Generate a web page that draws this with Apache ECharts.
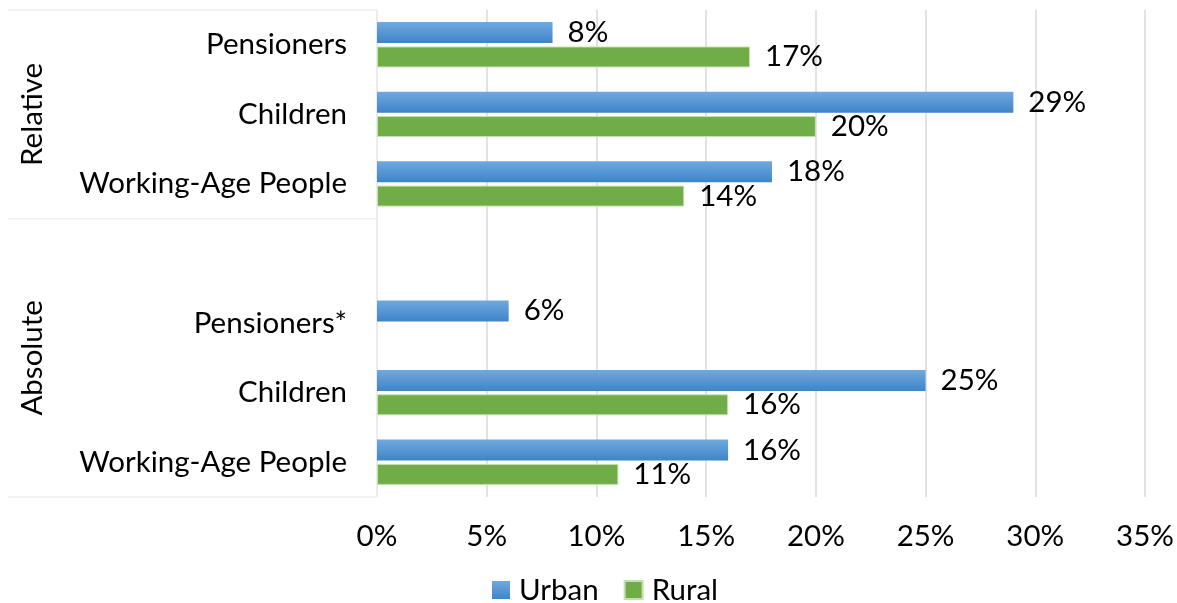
<!DOCTYPE html>
<html>
<head>
<meta charset="utf-8">
<script src="https://cdn.jsdelivr.net/npm/echarts@6/dist/echarts.min.js"></script>
<style>
  html, body { margin: 0; padding: 0; background: #fff; }
  #chart { width: 1177px; height: 603px; }
</style>
</head>
<body>
<div id="chart"></div>
<script>
// Poverty rates by group, listed top to bottom; the blank entry separates the two blocks
const categories = ['Pensioners', 'Children', 'Working-Age People', '', 'Pensioners*', 'Children', 'Working-Age People'];
const urban = [8, 29, 18, null, 6, 25, 16];
const rural = [17, 20, 14, null, null, 16, 11];
const groups = [
  { name: 'Relative', from: 0, to: 2 },
  { name: 'Absolute', from: 3, to: 6 }
];
const xTicks = { min: 0, max: 35, interval: 5 };

const FONT = 'Lato, "Noto Sans", sans-serif';
const FS = 29.5;

const chart = echarts.init(document.getElementById('chart'));

const labelStyle = {
  show: true,
  position: 'right',
  distance: 15,
  formatter: p => p.value + '%',
  color: '#000',
  fontFamily: FONT,
  fontSize: FS
};

chart.setOption({
  animation: false,
  grid: { left: 377, right: 32, top: 10, bottom: 106, containLabel: false },
  legend: {
    top: 570,
    left: 487,
    icon: 'rect',
    itemWidth: 18,
    itemHeight: 18,
    itemGap: 25,
    textStyle: { fontFamily: FONT, fontSize: FS, color: '#000', padding: [0, 0, 0, 4] },
    data: ['Urban', 'Rural']
  },
  xAxis: {
    type: 'value',
    min: xTicks.min,
    max: xTicks.max,
    interval: xTicks.interval,
    axisLine: { show: false },
    axisTick: { show: false },
    splitLine: { show: true, lineStyle: { color: '#d9d9d9', width: 1.5 } },
    axisLabel: {
      formatter: v => v + '%',
      color: '#000',
      fontFamily: FONT,
      fontSize: FS,
      margin: 24
    }
  },
  yAxis: {
    type: 'category',
    inverse: true,
    data: categories,
    axisLine: { show: false },
    axisTick: { show: false },
    splitLine: { show: false },
    axisLabel: {
      color: '#000',
      fontFamily: FONT,
      fontSize: FS,
      margin: 30
    }
  },
  series: [
    {
      name: 'Urban',
      type: 'bar',
      data: urban,
      barWidth: 21,
      barGap: '16%',
      itemStyle: {
        color: new echarts.graphic.LinearGradient(0, 0, 0, 1, [
          { offset: 0, color: '#70a9df' },
          { offset: 1, color: '#3e84c8' }
        ])
      },
      label: labelStyle
    },
    {
      name: 'Rural',
      type: 'bar',
      data: rural,
      barWidth: 21,
      barGap: '16%',
      itemStyle: { color: '#70ad47', borderColor: '#c5e0b3', borderWidth: 1 },
      label: labelStyle
    }
  ]
});

// Group captions and separator lines on the category side
function drawGroups() {
  const c0 = chart.convertToPixel({ yAxisIndex: 0 }, 0);
  const c1 = chart.convertToPixel({ yAxisIndex: 0 }, 1);
  const band = Math.abs(c1 - c0);
  const xAxisLeft = chart.convertToPixel({ xAxisIndex: 0 }, 0);
  const edge = i => chart.convertToPixel({ yAxisIndex: 0 }, i);
  const elements = [];
  const lineStyle = { stroke: '#efefef', lineWidth: 1.5 };
  const ys = [edge(groups[0].from) - band / 2];
  groups.forEach(g => {
    const top = edge(g.from) - band / 2;
    const bottom = edge(g.to) + band / 2;
    ys.push(bottom);
    elements.push({
      type: 'text',
      x: 32,
      y: (top + bottom) / 2,
      rotation: Math.PI / 2,
      style: {
        text: g.name,
        fontFamily: FONT,
        fontSize: FS,
        fill: '#000',
        align: 'center',
        verticalAlign: 'middle'
      }
    });
  });
  ys.forEach(y => {
    elements.push({ type: 'line', shape: { x1: 8, y1: y, x2: xAxisLeft, y2: y }, style: lineStyle });
  });
  elements.push({
    type: 'line',
    shape: { x1: xAxisLeft, y1: ys[0], x2: xAxisLeft, y2: ys[ys.length - 1] },
    style: lineStyle
  });
  chart.setOption({ graphic: { elements } });
}
drawGroups();
</script>
</body>
</html>
